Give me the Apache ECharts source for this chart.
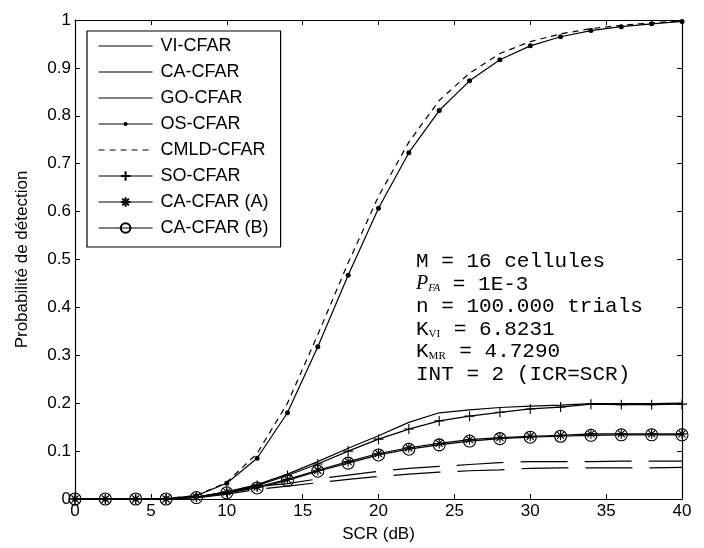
<!DOCTYPE html>
<html>
<head>
<meta charset="utf-8">
<script src="https://cdn.jsdelivr.net/npm/echarts@6/dist/echarts.min.js"></script>
<style>
  html, body { margin: 0; padding: 0; background: #fff; }
  #chart { width: 704px; height: 548px; }
</style>
</head>
<body>
<div id="chart"></div>
<script>
// Detection probability versus SCR for several CFAR detectors
const scr = [0, 2, 4, 6, 8, 10, 12, 14, 16, 18, 20, 22, 24, 26, 28, 30, 32, 34, 36, 38, 40];

const viCfar   = [0, 0, 0, 0, 0.004, 0.015, 0.030, 0.052, 0.078, 0.106, 0.132, 0.160, 0.180, 0.186, 0.191, 0.194, 0.196, 0.199, 0.199, 0.199, 0.200];
const caCfar   = [0, 0, 0, 0, 0.003, 0.012, 0.026, 0.032, 0.042, 0.050, 0.058, 0.064, 0.068, 0.072, 0.076, 0.078, 0.078, 0.078, 0.079, 0.079, 0.079];
const goCfar   = [0, 0, 0, 0, 0.002, 0.010, 0.020, 0.027, 0.034, 0.041, 0.047, 0.052, 0.056, 0.059, 0.061, 0.064, 0.065, 0.065, 0.065, 0.065, 0.066];
const osCfar   = [0, 0, 0, 0.001, 0.007, 0.033, 0.085, 0.180, 0.318, 0.467, 0.607, 0.723, 0.811, 0.873, 0.917, 0.946, 0.965, 0.978, 0.986, 0.992, 0.997];
const cmldCfar = [0, 0, 0, 0.001, 0.007, 0.035, 0.095, 0.200, 0.343, 0.493, 0.632, 0.745, 0.832, 0.889, 0.930, 0.955, 0.971, 0.982, 0.989, 0.994, 0.998];
const soCfar   = [0, 0, 0, 0, 0.004, 0.014, 0.028, 0.049, 0.073, 0.100, 0.125, 0.146, 0.163, 0.173, 0.181, 0.188, 0.192, 0.198, 0.197, 0.197, 0.198];
const caCfarA  = [0, 0, 0, 0, 0.004, 0.015, 0.025, 0.041, 0.060, 0.078, 0.095, 0.107, 0.116, 0.124, 0.128, 0.131, 0.133, 0.136, 0.136, 0.136, 0.136];
const caCfarB  = [0, 0, 0, 0, 0.003, 0.013, 0.023, 0.039, 0.058, 0.075, 0.092, 0.104, 0.113, 0.121, 0.126, 0.129, 0.131, 0.133, 0.134, 0.134, 0.134];

const xTicks = [0, 5, 10, 15, 20, 25, 30, 35, 40];
const yTicks = [0, 0.1, 0.2, 0.3, 0.4, 0.5, 0.6, 0.7, 0.8, 0.9, 1];

const infoLines = [
  '{t|M = 16 cellules}',
  '{p|P}{ps|FA}{t| = 1E-3}',
  '{t|n = 100.000 trials}',
  '{t|K}{ks|VI}{t| = 6.8231}',
  '{t|K}{ks|MR}{t| = 4.7290}',
  '{t|INT = 2 (ICR=SCR)}'
];

const INK = '#000';
const SANS = 'Liberation Sans, Arial, sans-serif';
const MONO = 'Liberation Mono, Courier New, monospace';

const PLUS = 'path://M5,0L5,10M0,5L10,5';
const STAR = 'path://M5,0L5,10M0,5L10,5M1.5,1.5L8.5,8.5M8.5,1.5L1.5,8.5';
// small filled dot centred in a wider empty frame
const DOT = 'path://M0,0M12,12M3.5,6A2.5,2.5,0,1,0,8.5,6A2.5,2.5,0,1,0,3.5,6Z';

function pairs(vals) {
  return scr.map((x, i) => [x, vals[i]]);
}

function lineSeries(name, vals, opts) {
  const o = opts || {};
  return {
    name: name,
    type: 'line',
    data: pairs(vals),
    smooth: false,
    showSymbol: !!o.symbol,
    symbol: o.symbol || 'none',
    symbolSize: o.symbolSize || 8,
    symbolKeepAspect: true,
    lineStyle: { color: INK, width: 1.2, type: o.dash || 'solid' },
    itemStyle: o.itemStyle || { color: INK },
    emphasis: { disabled: true },
    animation: false,
    clip: false,
    z: 2
  };
}

const hollow = { color: 'none', borderColor: INK, borderWidth: 1.1 };

const series = [
  lineSeries('VI-CFAR', viCfar),
  lineSeries('CA-CFAR', caCfar, { dash: [47, 17] }),
  lineSeries('GO-CFAR', goCfar, { dash: [47, 17] }),
  lineSeries('OS-CFAR', osCfar, { symbol: DOT, symbolSize: 12 }),
  lineSeries('CMLD-CFAR', cmldCfar, { dash: [6, 5] }),
  lineSeries('SO-CFAR', soCfar, { symbol: PLUS, symbolSize: 10, itemStyle: hollow }),
  lineSeries('CA-CFAR (A)', caCfarA, { symbol: STAR, symbolSize: 10, itemStyle: hollow }),
  lineSeries('CA-CFAR (B)', caCfarB, { symbol: 'circle', symbolSize: 12, itemStyle: hollow })
];

// legend rows: plain lines carry no marker
const plainNames = ['VI-CFAR', 'CA-CFAR', 'GO-CFAR', 'CMLD-CFAR'];

const legendData = series.map(s => {
  const item = {
    name: s.name,
    lineStyle: { type: s.name === 'CMLD-CFAR' ? [6, 5] : 'solid', width: 1.2, color: INK }
  };
  if (plainNames.indexOf(s.name) >= 0) {
    item.itemStyle = { color: 'transparent', borderColor: 'transparent', borderWidth: 0 };
  }
  return item;
});

function axisCommon(extra) {
  return Object.assign({
    type: 'value',
    axisLine: { show: true, onZero: false, lineStyle: { color: INK, width: 1.2 } },
    axisTick: { show: true, inside: true, length: 5, lineStyle: { color: INK, width: 1 } },
    splitLine: { show: false },
    axisLabel: { show: false }
  }, extra);
}

const chart = echarts.init(document.getElementById('chart'), null, { renderer: 'canvas' });

const graphics = infoLines.map((txt, i) => ({
  type: 'text',
  left: 416,
  top: 251 + i * 22.6,
  z: 10,
  style: {
    text: txt,
    fill: INK,
    rich: {
      t: { fontFamily: MONO, fontSize: 21, fill: INK },
      p: { fontFamily: 'Liberation Serif, Times New Roman, serif', fontStyle: 'italic', fontSize: 20, fill: INK },
      ps: { fontFamily: 'Liberation Serif, Times New Roman, serif', fontStyle: 'italic', fontSize: 11, fill: INK, padding: [9, 0, 0, 0] },
      ks: { fontFamily: 'Liberation Serif, Times New Roman, serif', fontSize: 11, fill: INK, padding: [9, 1, 0, 0] }
    }
  }
}));

chart.setOption({
  backgroundColor: '#fff',
  animation: false,
  grid: { left: 75, right: 22, top: 20, bottom: 48, containLabel: false },
  xAxis: [
    axisCommon({
      position: 'bottom',
      min: 0, max: 40, interval: 5,
      axisLabel: {
        show: true, color: INK, fontFamily: SANS, fontSize: 17, margin: 4,
        formatter: v => (xTicks.indexOf(v) >= 0 ? String(v) : '')
      },
      name: 'SCR (dB)',
      nameLocation: 'middle',
      nameGap: 27,
      nameTextStyle: { color: INK, fontFamily: SANS, fontSize: 17 }
    }),
    axisCommon({ position: 'top', min: 0, max: 40, interval: 5 })
  ],
  yAxis: [
    axisCommon({
      position: 'left',
      min: 0, max: 1, interval: 0.1,
      axisLabel: {
        show: true, color: INK, fontFamily: SANS, fontSize: 17, margin: 4,
        formatter: v => {
          const t = yTicks.find(k => Math.abs(k - v) < 1e-9);
          if (t === undefined) return '';
          return (t === 0 || t === 1) ? String(t) : t.toFixed(1);
        }
      },
      name: 'Probabilité de détection',
      nameLocation: 'middle',
      nameGap: 44,
      nameTextStyle: { color: INK, fontFamily: SANS, fontSize: 17 }
    }),
    axisCommon({ position: 'right', min: 0, max: 1, interval: 0.1 })
  ],
  legend: {
    show: true,
    orient: 'vertical',
    left: 87,
    top: 31,
    padding: [6, 12, 10, 11],
    itemWidth: 54,
    itemHeight: 12,
    itemGap: 8,
    backgroundColor: '#fff',
    borderColor: INK,
    borderWidth: 1.2,
    borderRadius: 0,
    selectedMode: false,
    textStyle: { color: INK, fontFamily: SANS, fontSize: 18, padding: [0, 0, 0, 3] },
    data: legendData,
    z: 8
  },
  series: series,
  graphic: graphics
});
</script>
</body>
</html>
